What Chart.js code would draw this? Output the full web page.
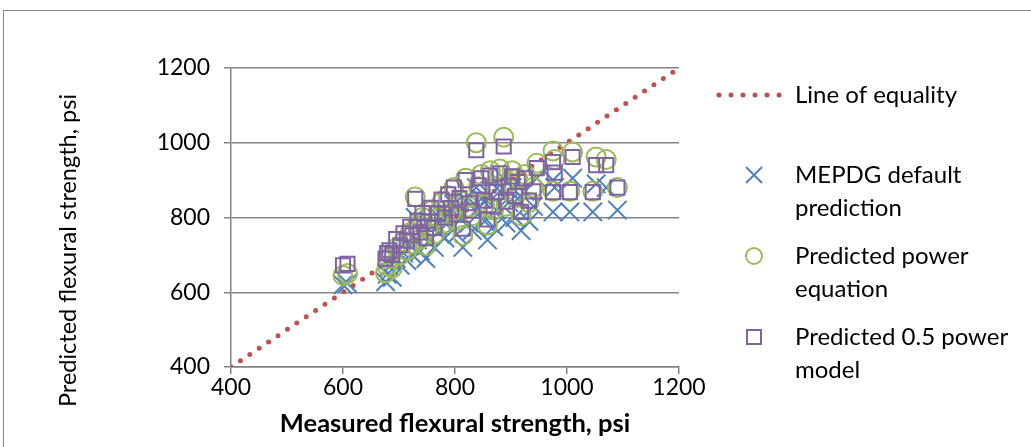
<!DOCTYPE html>
<html>
<head>
  <title>Measured vs predicted flexural strength</title>
  <style>
    body {
      margin: 0;
      background: #ffffff;
    }
    .chart-container {
      position: relative;
      width: 1031px;
      height: 447px;
    }
  </style>
  <script src="https://cdn.jsdelivr.net/npm/chart.js"></script>
</head>
<body>
  <div class="chart-container">
    <canvas id="strengthChart"></canvas>
  </div>
  <script>
    // Measured flexural strength (psi) and the three predictions for each specimen
    const measured = [600, 608, 676, 679, 683, 688, 695, 702, 708, 714, 720, 724, 729, 733, 738, 742, 748, 752, 758, 763,
      770, 776, 782, 788, 793, 798, 803, 808, 814, 819, 825, 831, 838, 842, 847, 853, 858, 863, 869, 874,
      880, 887, 891, 896, 902, 907, 912, 918, 925, 932, 940, 946, 975, 975, 978, 1005, 1010, 1046, 1052, 1070, 1090];
    const mepdgPred = [620, 624, 628, 648, 668, 640, 690, 672, 705, 685, 725, 700, 800, 740, 710, 760, 690, 735, 775, 720,
      760, 795, 745, 810, 770, 835, 755, 800, 720, 845, 785, 765, 880, 825, 850, 790, 740, 860, 775, 820,
      870, 905, 785, 840, 880, 800, 850, 765, 870, 790, 830, 905, 815, 900, 880, 815, 905, 815, 890, 880, 820];
    const powerPred = [645, 650, 652, 670, 690, 665, 718, 700, 735, 712, 760, 730, 855, 778, 742, 800, 725, 772, 818, 755,
      800, 840, 785, 858, 812, 880, 792, 845, 752, 905, 828, 805, 1000, 882, 915, 835, 780, 925, 820, 870,
      930, 1015, 830, 895, 925, 855, 905, 805, 915, 840, 880, 945, 870, 978, 955, 870, 975, 870, 962, 955, 880];
    const halfPowerPred = [672, 676, 690, 705, 712, 700, 742, 725, 758, 738, 775, 752, 850, 792, 760, 812, 745, 790, 826, 772,
      812, 848, 800, 862, 825, 880, 808, 852, 770, 900, 838, 818, 980, 886, 905, 845, 795, 912, 830, 868,
      918, 990, 842, 885, 910, 858, 895, 815, 905, 845, 870, 932, 868, 948, 920, 868, 962, 868, 940, 940, 880];
    const equalityLine = [400, 1200];

    const yTitle = 'Predicted flexural strength, psi';
    const legendLabels = [
      ['Line of equality'],
      ['MEPDG default', 'prediction'],
      ['Predicted power', 'equation'],
      ['Predicted 0.5 power', 'model']
    ];

    const RED = '#C0504D';
    const BLUE = '#4F81BD';
    const GREEN = '#9BBB59';
    const PURPLE = '#8064A2';
    const GRID = '#848484';
    const FONT = 'Lato, "Open Sans", sans-serif';

    function toPoints(xs, ys) {
      return xs.map((x, i) => ({ x: x, y: ys[i] }));
    }

    // Grey frame round the whole chart (the right and bottom edges fall outside the picture)
    const framePlugin = {
      id: 'frame',
      beforeDraw(chart) {
        const ctx = chart.ctx;
        ctx.save();
        ctx.fillStyle = '#ffffff';
        ctx.fillRect(0, 0, chart.width, chart.height);
        ctx.strokeStyle = '#8a8a8a';
        ctx.lineWidth = 1;
        ctx.strokeRect(3.5, 10.5, chart.width + 20, chart.height + 20);
        ctx.restore();
      }
    };

    // Vertical axis title, sitting a little below the middle of the axis like the original
    const yTitlePlugin = {
      id: 'yTitle',
      afterDraw(chart) {
        const ctx = chart.ctx;
        const area = chart.chartArea;
        ctx.save();
        ctx.translate(68, (area.top + area.bottom) / 2 + 33);
        ctx.rotate(-Math.PI / 2);
        ctx.fillStyle = '#000000';
        ctx.font = '23.5px ' + FONT;
        ctx.textAlign = 'center';
        ctx.textBaseline = 'middle';
        ctx.fillText(yTitle, 0, 0);
        ctx.restore();
      }
    };

    // Legend on the right with two-line labels
    const sideLegend = {
      id: 'sideLegend',
      afterDraw(chart) {
        const ctx = chart.ctx;
        const x0 = chart.chartArea.right + 40;
        const markX = x0 + 35;
        const textX = x0 + 76;
        const rows = [95, 175, 256, 337];
        const lineGap = 33;
        ctx.save();

        // dotted line sample
        ctx.strokeStyle = RED;
        ctx.lineWidth = 5;
        ctx.lineCap = 'round';
        ctx.setLineDash([0, 12]);
        ctx.beginPath();
        ctx.moveTo(x0, rows[0]);
        ctx.lineTo(x0 + 62, rows[0]);
        ctx.stroke();
        ctx.setLineDash([]);
        ctx.lineCap = 'butt';
        ctx.lineWidth = 2;

        // x marker
        ctx.strokeStyle = BLUE;
        ctx.beginPath();
        ctx.moveTo(markX - 8, rows[1] - 8);
        ctx.lineTo(markX + 8, rows[1] + 8);
        ctx.moveTo(markX + 8, rows[1] - 8);
        ctx.lineTo(markX - 8, rows[1] + 8);
        ctx.stroke();

        // circle marker
        ctx.strokeStyle = GREEN;
        ctx.beginPath();
        ctx.arc(markX, rows[2], 8, 0, Math.PI * 2);
        ctx.stroke();

        // square marker
        ctx.strokeStyle = PURPLE;
        ctx.strokeRect(markX - 7, rows[3] - 7, 14, 14);

        ctx.fillStyle = '#000000';
        ctx.font = '24px ' + FONT;
        ctx.textBaseline = 'middle';
        ctx.textAlign = 'left';
        legendLabels.forEach((lines, i) => {
          lines.forEach((line, j) => {
            ctx.fillText(line, textX, rows[i] + j * lineGap);
          });
        });
        ctx.restore();
      }
    };

    const ctx = document.getElementById('strengthChart').getContext('2d');
    new Chart(ctx, {
      type: 'scatter',
      data: {
        datasets: [
          {
            label: 'Line of equality',
            data: toPoints(equalityLine, equalityLine),
            showLine: true,
            borderColor: RED,
            borderWidth: 5,
            borderDash: [0, 11.3],
            borderCapStyle: 'round',
            pointRadius: 0,
            order: 3
          },
          {
            label: 'MEPDG default prediction',
            data: toPoints(measured, mepdgPred),
            pointStyle: 'crossRot',
            pointRadius: 13,
            pointBorderWidth: 2,
            borderColor: BLUE,
            backgroundColor: 'rgba(0,0,0,0)',
            order: 2
          },
          {
            label: 'Predicted power equation',
            data: toPoints(measured, powerPred),
            pointStyle: 'circle',
            pointRadius: 9.5,
            pointBorderWidth: 2,
            borderColor: GREEN,
            backgroundColor: 'rgba(0,0,0,0)',
            order: 1
          },
          {
            label: 'Predicted 0.5 power model',
            data: toPoints(measured, halfPowerPred),
            pointStyle: 'rect',
            pointRadius: 10,
            pointBorderWidth: 2,
            borderColor: PURPLE,
            backgroundColor: 'rgba(0,0,0,0)',
            order: 0
          }
        ]
      },
      options: {
        responsive: true,
        maintainAspectRatio: false,
        animation: false,
        layout: {
          padding: { left: 0, top: 68, right: 352, bottom: 0 }
        },
        plugins: {
          legend: { display: false },
          tooltip: { enabled: false }
        },
        scales: {
          x: {
            type: 'linear',
            min: 400,
            max: 1200,
            afterFit: s => { s.height = 80; },
            ticks: {
              stepSize: 200,
              color: '#000000',
              padding: 0,
              callback: v => String(v),
              font: { family: FONT, size: 23 }
            },
            grid: {
              drawOnChartArea: false,
              drawTicks: true,
              tickLength: 7,
              color: GRID,
              lineWidth: 1.5
            },
            border: { color: GRID, width: 1.5 },
            title: {
              display: true,
              text: 'Measured flexural strength, psi',
              color: '#000000',
              padding: { top: 0, bottom: 8 },
              font: { family: FONT, size: 25.5, weight: 'bold' }
            }
          },
          y: {
            type: 'linear',
            min: 400,
            max: 1200,
            afterFit: s => { s.width = 231; },
            ticks: {
              stepSize: 200,
              color: '#000000',
              padding: 14,
              callback: v => String(v),
              font: { family: FONT, size: 23 }
            },
            grid: {
              drawTicks: true,
              tickLength: 7,
              color: GRID,
              lineWidth: 1.5
            },
            border: { color: GRID, width: 1.5 }
          }
        }
      },
      plugins: [framePlugin, yTitlePlugin, sideLegend]
    });
  </script>
</body>
</html>
